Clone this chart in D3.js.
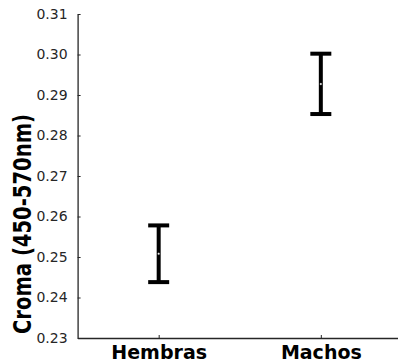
<!DOCTYPE html>
<html>
<head>
<meta charset="utf-8">
<script src="https://cdn.jsdelivr.net/npm/d3@7/dist/d3.min.js"></script>
<style>
  html, body { margin: 0; padding: 0; background: #fff; }
  svg { display: block; }
  svg text { font-family: "DejaVu Sans", Verdana, sans-serif; }
</style>
</head>
<body>
<svg id="chart" width="398" height="362"></svg>
<script>
// Croma (450-570nm) by sex: mean with lower / upper bounds
const categories = ["Hembras", "Machos"];
const means = [0.2508, 0.2927];
const lower = [0.2438, 0.2853];
const upper = [0.2578, 0.3002];
const yTicks = [0.23, 0.24, 0.25, 0.26, 0.27, 0.28, 0.29, 0.30, 0.31];

const FONT = '"DejaVu Sans", Verdana, sans-serif';
const svg = d3.select("#chart");
const axisColor = "#262626";

// categories sit at positions 1 and 2 on a [0.5, 2.5] axis
const x = d3.scaleLinear().domain([0.5, 2.5]).range([77.6, 401.9]);
const y = d3.scaleLinear().domain([0.23, 0.31]).range([338, 14]);

// y axis (ticks point inward)
const yAxis = svg.append("g")
  .attr("transform", `translate(${x(0.5)},0)`)
  .call(d3.axisLeft(y).tickValues(yTicks).tickFormat(d3.format(".2f"))
    .tickSizeInner(-3).tickSizeOuter(0).tickPadding(10));
yAxis.attr("font-family", FONT);
yAxis.select(".domain").attr("stroke", axisColor).attr("stroke-width", 1.3);
yAxis.selectAll(".tick line").attr("stroke", axisColor).attr("stroke-width", 1);
yAxis.selectAll(".tick text").attr("fill", axisColor)
  .style("font-family", FONT).style("font-size", "14px");

// x axis (ticks point inward, bold category names)
const xAxis = svg.append("g")
  .attr("transform", `translate(0,${y(0.23)})`)
  .call(d3.axisBottom(x).tickValues([1, 2]).tickFormat(d => categories[d - 1])
    .tickSizeInner(-3).tickSizeOuter(0).tickPadding(8));
xAxis.attr("font-family", FONT);
xAxis.select(".domain").attr("stroke", axisColor).attr("stroke-width", 1.3);
xAxis.selectAll(".tick line").attr("stroke", axisColor).attr("stroke-width", 1);
xAxis.selectAll(".tick text").attr("fill", "#000")
  .style("font-family", FONT).style("font-size", "19px").style("font-weight", "bold");

// y axis title
svg.append("text")
  .attr("transform", `translate(30.5,${224}) rotate(-90)`)
  .attr("text-anchor", "middle")
  .attr("textLength", 220)
  .attr("lengthAdjust", "spacingAndGlyphs")
  .style("font-family", FONT)
  .style("font-size", "24px").style("font-weight", "bold")
  .attr("fill", "#000")
  .text("Croma (450-570nm)");

// error bars
const capHalf = 10.5;
const bars = svg.append("g").selectAll("g").data(categories).join("g");
bars.append("line")
  .attr("x1", (d, i) => x(i + 1)).attr("x2", (d, i) => x(i + 1))
  .attr("y1", (d, i) => y(lower[i])).attr("y2", (d, i) => y(upper[i]))
  .attr("stroke", "#000").attr("stroke-width", 4);
bars.append("line")
  .attr("x1", (d, i) => x(i + 1) - capHalf).attr("x2", (d, i) => x(i + 1) + capHalf)
  .attr("y1", (d, i) => y(upper[i])).attr("y2", (d, i) => y(upper[i]))
  .attr("stroke", "#000").attr("stroke-width", 4);
bars.append("line")
  .attr("x1", (d, i) => x(i + 1) - capHalf).attr("x2", (d, i) => x(i + 1) + capHalf)
  .attr("y1", (d, i) => y(lower[i])).attr("y2", (d, i) => y(lower[i]))
  .attr("stroke", "#000").attr("stroke-width", 4);
// mean marker
bars.append("circle")
  .attr("cx", (d, i) => x(i + 1)).attr("cy", (d, i) => y(means[i]))
  .attr("r", 1).attr("fill", "#fff").attr("stroke", "#888").attr("stroke-width", 0.3);
</script>
</body>
</html>
